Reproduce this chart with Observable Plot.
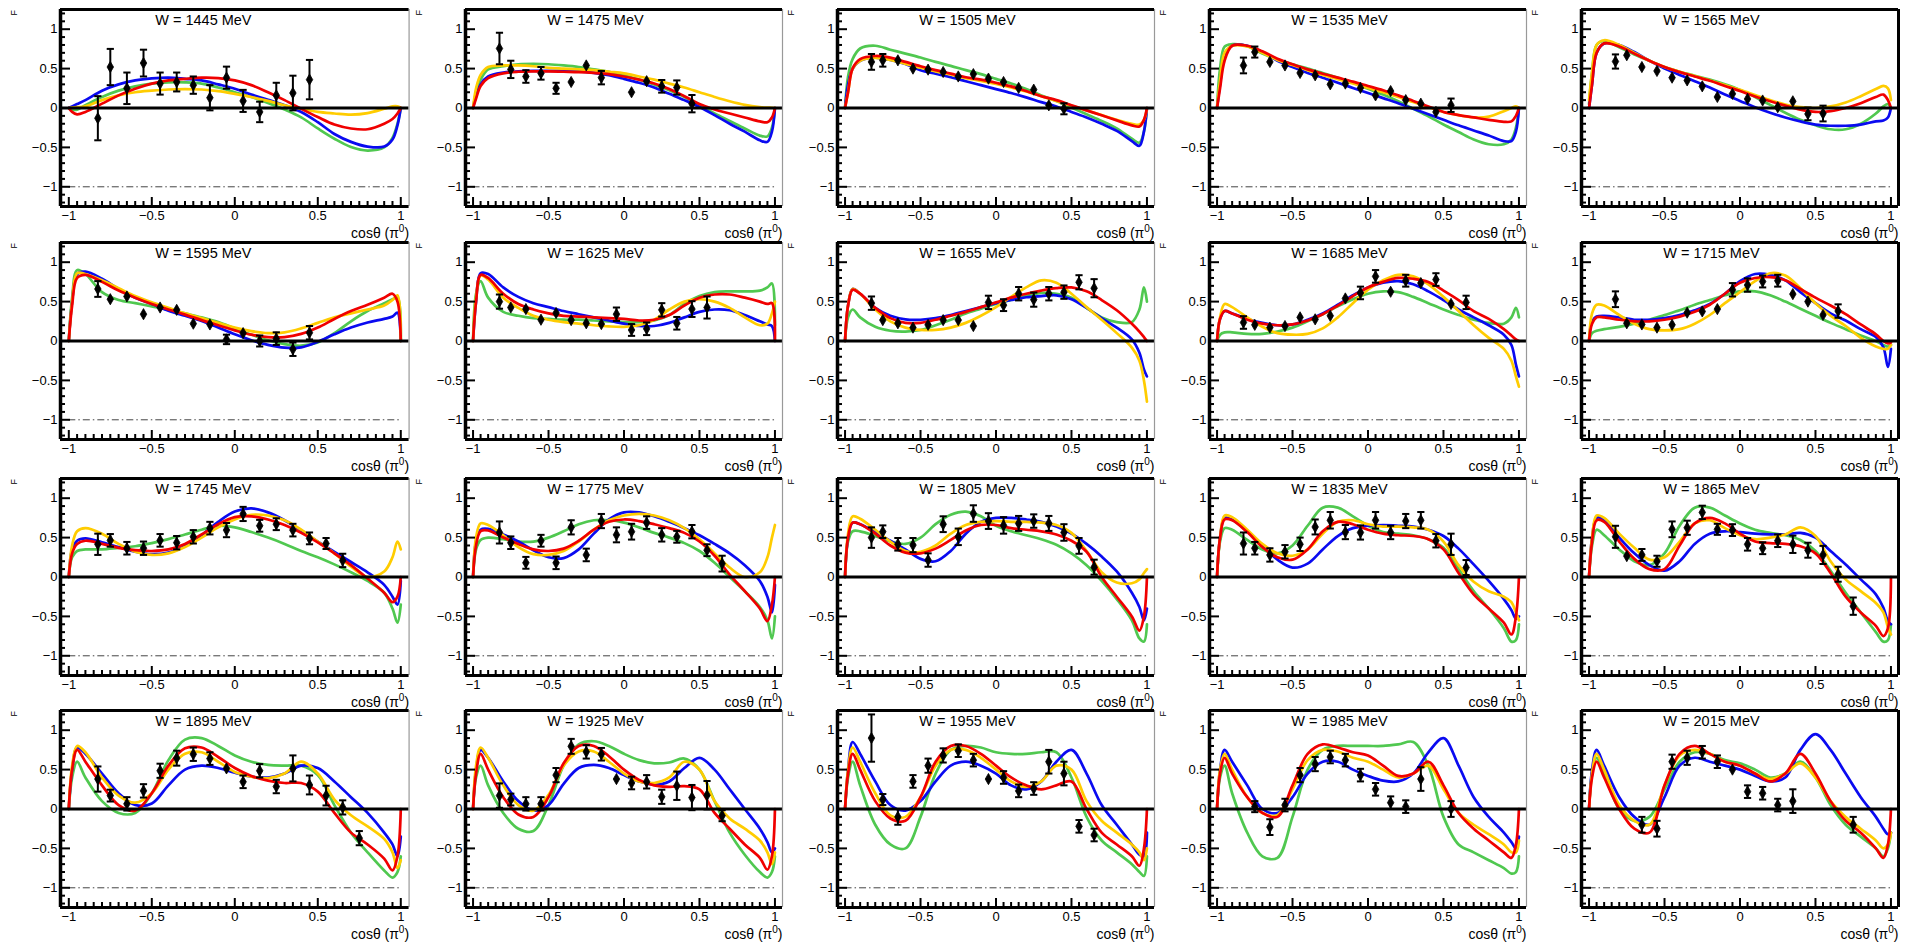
<!DOCTYPE html>
<html>
<head>
<meta charset="utf-8">
<script src="https://cdn.jsdelivr.net/npm/d3@7"></script>
<script src="https://cdn.jsdelivr.net/npm/@observablehq/plot@0.6"></script>
<style>
  html, body { margin: 0; padding: 0; background: #fff; overflow: hidden; }
  #chart { position: relative; width: 1905px; height: 942px; }
  #chart svg { position: absolute; }
</style>
</head>
<body>
<div id="chart"></div>
<script>
// Beam energies, one panel each
const energies = [1445, 1475, 1505, 1535, 1565, 1595, 1625, 1655, 1685, 1715,
                  1745, 1775, 1805, 1835, 1865, 1895, 1925, 1955, 1985, 2015];

// cos(theta) sampling of the model curves
const cosGrid = [-1, -0.98, -0.95, -0.9, -0.8, -0.7, -0.6, -0.5, -0.4, -0.3, -0.2, -0.1, 0,
                 0.1, 0.2, 0.3, 0.4, 0.5, 0.6, 0.7, 0.8, 0.9, 0.95, 0.98, 1];

// cos(theta) bin centres of the measurements
const binCos = [-0.825, -0.75, -0.65, -0.55, -0.45, -0.35, -0.25, -0.15, -0.05,
                0.05, 0.15, 0.25, 0.35, 0.45, 0.55, 0.65, 0.75];

// Measured F per energy (null = no measurement in that bin)
const measF = [
  [-0.13, 0.52, 0.25, 0.57, 0.31, 0.33, 0.29, 0.13, 0.385, 0.09, -0.05, 0.16, 0.19, 0.36, null, null, null],
  [0.755, 0.49, 0.40, 0.44, 0.25, 0.33, 0.54, 0.385, null, 0.2, 0.34, 0.275, 0.26, 0.055, null, null, null],
  [0.585, 0.605, 0.605, 0.5, 0.487, 0.457, 0.4, 0.43, 0.373, 0.33, 0.255, 0.233, 0.034, -0.01, null, null, null],
  [0.54, 0.71, 0.585, 0.54, 0.445, 0.415, 0.3, 0.31, 0.255, 0.16, 0.215, 0.1, 0.055, -0.05, 0.035, null, null],
  [0.59, 0.67, 0.52, 0.47, 0.385, 0.35, 0.275, 0.14, 0.18, 0.115, 0.095, 0.01, 0.085, -0.075, -0.07, null, null],
  [0.66, 0.53, 0.565, 0.34, 0.425, 0.395, 0.22, 0.21, 0.02, 0.1, 0.0, 0.03, -0.105, 0.105, null, null, null],
  [0.5, 0.425, 0.405, 0.27, 0.355, 0.265, 0.225, 0.215, 0.34, 0.14, 0.155, 0.395, 0.225, 0.405, 0.425, null, null],
  [0.48, 0.265, 0.225, 0.17, 0.205, 0.265, 0.265, 0.19, 0.49, 0.455, 0.6, 0.525, 0.6, 0.62, 0.745, 0.67, null],
  [0.235, 0.205, 0.17, 0.19, 0.3, 0.275, 0.32, 0.54, 0.61, 0.82, 0.625, 0.765, 0.735, 0.78, 0.47, 0.49, null],
  [0.53, 0.225, 0.21, 0.17, 0.205, 0.36, 0.375, 0.405, 0.65, 0.71, 0.755, 0.765, 0.595, 0.5, 0.33, 0.38, null],
  [0.415, 0.465, 0.365, 0.365, 0.465, 0.435, 0.51, 0.62, 0.595, 0.8, 0.65, 0.67, 0.595, 0.49, 0.425, 0.21, null],
  [0.565, 0.435, 0.18, 0.46, 0.18, 0.63, 0.28, 0.71, 0.535, 0.575, 0.69, 0.535, 0.51, 0.575, 0.34, 0.17, null],
  [0.5, 0.575, 0.415, 0.405, 0.215, 0.67, 0.51, 0.805, 0.71, 0.655, 0.68, 0.71, 0.68, 0.565, 0.395, 0.125, null],
  [0.425, 0.365, 0.28, 0.32, 0.415, 0.635, 0.72, 0.57, 0.565, 0.72, 0.565, 0.71, 0.72, 0.46, 0.415, 0.12, null],
  [0.51, 0.265, 0.28, 0.2, 0.605, 0.625, 0.82, 0.605, 0.595, 0.415, 0.365, 0.46, 0.415, 0.34, 0.28, 0.035, -0.37],
  [0.38, 0.17, 0.065, 0.23, 0.485, 0.645, 0.695, 0.64, 0.515, 0.345, 0.485, 0.285, 0.515, 0.305, 0.17, 0.02, -0.37],
  [0.17, 0.12, 0.065, 0.065, 0.43, 0.795, 0.725, 0.695, 0.38, 0.33, 0.345, 0.155, 0.295, 0.145, 0.175, -0.085, null],
  [0.9, 0.12, -0.1, 0.35, 0.55, 0.68, 0.74, 0.62, 0.38, 0.4, 0.23, 0.26, 0.6, 0.45, -0.22, -0.33, null],
  [null, 0.03, -0.23, 0.05, 0.43, 0.57, 0.66, 0.62, 0.43, 0.25, 0.08, 0.03, 0.38, null, 0.0, null, null],
  [null, null, -0.2, -0.25, 0.6, 0.65, 0.72, 0.6, 0.5, 0.22, 0.2, 0.05, 0.1, null, null, null, -0.2]
];

// Uncertainty of each measurement
const measErr = [
  [0.28, 0.23, 0.2, 0.17, 0.14, 0.12, 0.11, 0.16, 0.14, 0.14, 0.13, 0.16, 0.22, 0.25, null, null, null],
  [0.2, 0.11, 0.08, 0.08, 0.07, 0.03, 0.03, 0.085, null, 0.03, 0.03, 0.08, 0.09, 0.11, null, null, null],
  [0.1, 0.08, 0.04, 0.04, 0.035, 0.035, 0.035, 0.035, 0.035, 0.035, 0.035, 0.035, 0.03, 0.07, null, null, null],
  [0.1, 0.07, 0.04, 0.04, 0.04, 0.04, 0.035, 0.03, 0.035, 0.035, 0.035, 0.035, 0.035, 0.035, 0.085, null, null],
  [0.09, 0.04, 0.04, 0.04, 0.035, 0.035, 0.035, 0.03, 0.035, 0.035, 0.035, 0.03, 0.03, 0.08, 0.1, null, null],
  [0.1, 0.03, 0.04, 0.03, 0.035, 0.035, 0.03, 0.035, 0.06, 0.035, 0.07, 0.08, 0.085, 0.085, null, null, null],
  [0.09, 0.035, 0.035, 0.035, 0.035, 0.035, 0.03, 0.03, 0.085, 0.075, 0.08, 0.085, 0.08, 0.1, 0.14, null, null],
  [0.085, 0.03, 0.03, 0.03, 0.03, 0.03, 0.03, 0.03, 0.085, 0.075, 0.085, 0.09, 0.085, 0.085, 0.09, 0.115, null],
  [0.08, 0.03, 0.03, 0.03, 0.03, 0.03, 0.03, 0.03, 0.08, 0.08, 0.03, 0.075, 0.03, 0.08, 0.03, 0.085, null],
  [0.1, 0.03, 0.03, 0.03, 0.03, 0.03, 0.03, 0.03, 0.085, 0.085, 0.075, 0.075, 0.03, 0.03, 0.03, 0.085, null],
  [0.135, 0.08, 0.08, 0.085, 0.08, 0.085, 0.085, 0.08, 0.09, 0.09, 0.075, 0.075, 0.08, 0.075, 0.07, 0.085, null],
  [0.14, 0.08, 0.075, 0.075, 0.08, 0.09, 0.08, 0.09, 0.095, 0.1, 0.08, 0.085, 0.075, 0.085, 0.075, 0.1, null],
  [0.13, 0.08, 0.08, 0.09, 0.085, 0.1, 0.105, 0.105, 0.1, 0.105, 0.095, 0.085, 0.095, 0.105, 0.1, 0.095, null],
  [0.14, 0.08, 0.085, 0.085, 0.085, 0.095, 0.105, 0.09, 0.09, 0.105, 0.085, 0.09, 0.105, 0.085, 0.135, 0.095, null],
  [0.14, 0.03, 0.075, 0.07, 0.1, 0.09, 0.085, 0.07, 0.075, 0.08, 0.075, 0.08, 0.11, 0.095, 0.115, 0.095, 0.11],
  [0.16, 0.075, 0.085, 0.085, 0.09, 0.095, 0.085, 0.08, 0.03, 0.08, 0.085, 0.085, 0.165, 0.12, 0.125, 0.09, 0.09],
  [0.155, 0.075, 0.085, 0.085, 0.09, 0.095, 0.085, 0.08, 0.03, 0.08, 0.085, 0.09, 0.18, 0.16, 0.18, 0.07, null],
  [0.3, 0.07, 0.1, 0.08, 0.09, 0.09, 0.08, 0.08, 0.03, 0.08, 0.08, 0.08, 0.15, 0.15, 0.08, 0.08, null],
  [null, 0.07, 0.1, 0.08, 0.09, 0.09, 0.08, 0.08, 0.08, 0.08, 0.08, 0.08, 0.15, null, 0.1, null, null],
  [null, null, 0.1, 0.1, 0.09, 0.09, 0.08, 0.08, 0.03, 0.08, 0.08, 0.08, 0.15, null, null, null, 0.1]
];

// Model predictions of F on cosGrid, one row per energy
const curveBlue = [
  [0, 0.02, 0.05, 0.1, 0.22, 0.30, 0.35, 0.375, 0.385, 0.37, 0.35, 0.30, 0.245, 0.17, 0.105, 0.035, -0.05, -0.18, -0.33, -0.43, -0.49, -0.49, -0.4, -0.22, 0],
  [0, 0.15, 0.3, 0.40, 0.45, 0.465, 0.47, 0.47, 0.47, 0.465, 0.445, 0.415, 0.37, 0.32, 0.26, 0.18, 0.1, 0.013, -0.09, -0.2, -0.3, -0.41, -0.43, -0.3, 0],
  [0, 0.3, 0.5, 0.60, 0.64, 0.61, 0.56, 0.48, 0.435, 0.39, 0.34, 0.29, 0.24, 0.19, 0.135, 0.075, 0.02, -0.05, -0.12, -0.2, -0.29, -0.42, -0.48, -0.3, 0],
  [0, 0.3, 0.65, 0.79, 0.79, 0.71, 0.6, 0.52, 0.445, 0.385, 0.32, 0.255, 0.19, 0.125, 0.06, -0.01, -0.08, -0.15, -0.22, -0.285, -0.35, -0.42, -0.42, -0.3, 0],
  [0, 0.3, 0.7, 0.82, 0.8, 0.71, 0.6, 0.5, 0.42, 0.34, 0.26, 0.17, 0.09, 0.01, -0.06, -0.12, -0.17, -0.21, -0.225, -0.225, -0.21, -0.17, -0.16, -0.12, 0],
  [0, 0.5, 0.85, 0.88, 0.79, 0.66, 0.55, 0.47, 0.385, 0.32, 0.255, 0.17, 0.085, 0.01, -0.05, -0.085, -0.08, -0.01, 0.085, 0.17, 0.235, 0.28, 0.31, 0.36, 0],
  [0, 0.5, 0.86, 0.85, 0.68, 0.56, 0.48, 0.43, 0.38, 0.34, 0.3, 0.26, 0.22, 0.19, 0.19, 0.23, 0.3, 0.37, 0.4, 0.39, 0.33, 0.25, 0.21, 0.19, 0],
  [0, 0.45, 0.66, 0.6, 0.42, 0.32, 0.275, 0.27, 0.29, 0.33, 0.38, 0.43, 0.48, 0.52, 0.555, 0.57, 0.58, 0.53, 0.42, 0.29, 0.17, 0.02, -0.15, -0.36, -0.45],
  [0, 0.28, 0.38, 0.35, 0.28, 0.23, 0.2, 0.21, 0.27, 0.35, 0.46, 0.58, 0.68, 0.74, 0.76, 0.72, 0.63, 0.52, 0.4, 0.3, 0.2, 0.08, -0.05, -0.3, -0.45],
  [0, 0.25, 0.31, 0.32, 0.3, 0.27, 0.27, 0.29, 0.33, 0.39, 0.47, 0.6, 0.76, 0.85, 0.84, 0.77, 0.62, 0.48, 0.35, 0.26, 0.15, 0.05, -0.08, -0.33, -0.1],
  [0, 0.35, 0.46, 0.49, 0.44, 0.38, 0.32, 0.29, 0.31, 0.39, 0.53, 0.7, 0.83, 0.87, 0.82, 0.72, 0.59, 0.45, 0.32, 0.19, 0.06, -0.1, -0.25, -0.35, -0.05],
  [0, 0.45, 0.6, 0.61, 0.54, 0.45, 0.34, 0.25, 0.24, 0.35, 0.55, 0.73, 0.82, 0.82, 0.77, 0.7, 0.62, 0.53, 0.42, 0.3, 0.15, -0.05, -0.25, -0.45, -0.1],
  [0, 0.5, 0.69, 0.67, 0.57, 0.46, 0.35, 0.23, 0.2, 0.33, 0.55, 0.7, 0.75, 0.75, 0.73, 0.7, 0.64, 0.55, 0.42, 0.26, 0.07, -0.2, -0.38, -0.55, -0.4],
  [0, 0.5, 0.75, 0.73, 0.58, 0.4, 0.22, 0.12, 0.17, 0.35, 0.52, 0.62, 0.65, 0.66, 0.65, 0.64, 0.6, 0.52, 0.36, 0.16, -0.05, -0.28, -0.42, -0.53, -0.5],
  [0, 0.5, 0.75, 0.73, 0.5, 0.3, 0.15, 0.08, 0.2, 0.42, 0.55, 0.58, 0.57, 0.55, 0.54, 0.54, 0.56, 0.5, 0.33, 0.16, -0.03, -0.22, -0.39, -0.56, -0.6],
  [0, 0.5, 0.78, 0.7, 0.45, 0.2, 0.05, 0.07, 0.3, 0.5, 0.55, 0.52, 0.46, 0.41, 0.4, 0.45, 0.55, 0.52, 0.35, 0.15, -0.05, -0.3, -0.45, -0.6, -0.35],
  [0, 0.5, 0.75, 0.65, 0.35, 0.1, -0.02, 0.05, 0.32, 0.52, 0.56, 0.52, 0.43, 0.35, 0.31, 0.35, 0.52, 0.65, 0.5, 0.25, 0.0, -0.25, -0.42, -0.55, -0.5],
  [0, 0.5, 0.85, 0.7, 0.35, 0.05, -0.02, 0.1, 0.35, 0.55, 0.6, 0.55, 0.45, 0.3, 0.25, 0.35, 0.6, 0.75, 0.45, 0.05, -0.2, -0.45, -0.58, -0.6, -0.3],
  [0, 0.5, 0.75, 0.6, 0.3, 0.0, -0.05, 0.15, 0.45, 0.6, 0.6, 0.5, 0.42, 0.36, 0.35, 0.45, 0.72, 0.9, 0.55, 0.15, -0.1, -0.3, -0.42, -0.5, -0.35],
  [0, 0.5, 0.75, 0.55, 0.15, -0.1, -0.2, 0.15, 0.55, 0.65, 0.6, 0.55, 0.5, 0.42, 0.35, 0.4, 0.75, 0.95, 0.75, 0.45, 0.15, -0.1, -0.25, -0.32, -0.3]
];

const curveRed = [
  [0, -0.05, -0.08, -0.05, 0.055, 0.16, 0.245, 0.31, 0.35, 0.37, 0.385, 0.38, 0.35, 0.29, 0.2, 0.1, -0.01, -0.115, -0.21, -0.26, -0.27, -0.2, -0.14, -0.07, 0],
  [0, 0.12, 0.28, 0.38, 0.44, 0.46, 0.465, 0.465, 0.46, 0.455, 0.445, 0.43, 0.40, 0.36, 0.31, 0.24, 0.15, 0.05, -0.02, -0.07, -0.12, -0.17, -0.18, -0.12, 0],
  [0, 0.2, 0.5, 0.62, 0.66, 0.64, 0.585, 0.53, 0.48, 0.436, 0.39, 0.36, 0.32, 0.275, 0.215, 0.15, 0.1, 0.035, -0.03, -0.093, -0.157, -0.22, -0.235, -0.15, 0],
  [0, 0.25, 0.6, 0.79, 0.79, 0.72, 0.625, 0.555, 0.49, 0.435, 0.385, 0.335, 0.28, 0.225, 0.16, 0.09, 0.02, -0.05, -0.09, -0.12, -0.15, -0.175, -0.17, -0.1, 0],
  [0, 0.3, 0.7, 0.82, 0.78, 0.69, 0.6, 0.52, 0.455, 0.4, 0.345, 0.28, 0.215, 0.145, 0.085, 0.03, -0.02, -0.05, -0.04, 0.0, 0.06, 0.14, 0.17, 0.1, 0],
  [0, 0.45, 0.8, 0.84, 0.75, 0.64, 0.55, 0.47, 0.4, 0.335, 0.265, 0.2, 0.135, 0.08, 0.05, 0.05, 0.09, 0.17, 0.28, 0.38, 0.46, 0.55, 0.6, 0.5, 0],
  [0, 0.5, 0.84, 0.8, 0.6, 0.47, 0.4, 0.35, 0.32, 0.31, 0.3, 0.29, 0.28, 0.26, 0.27, 0.33, 0.45, 0.55, 0.59, 0.59, 0.55, 0.5, 0.47, 0.48, 0],
  [0, 0.45, 0.65, 0.6, 0.42, 0.29, 0.23, 0.23, 0.27, 0.32, 0.37, 0.43, 0.49, 0.55, 0.6, 0.64, 0.67, 0.68, 0.63, 0.52, 0.39, 0.22, 0.12, 0.05, 0],
  [0, 0.28, 0.38, 0.35, 0.27, 0.22, 0.2, 0.21, 0.26, 0.34, 0.45, 0.57, 0.68, 0.75, 0.8, 0.79, 0.75, 0.64, 0.52, 0.38, 0.28, 0.15, 0.07, 0.02, 0],
  [0, 0.22, 0.3, 0.3, 0.27, 0.25, 0.25, 0.27, 0.31, 0.37, 0.46, 0.6, 0.74, 0.8, 0.81, 0.77, 0.66, 0.55, 0.45, 0.34, 0.21, 0.085, 0.0, -0.03, -0.02],
  [0, 0.3, 0.42, 0.46, 0.42, 0.37, 0.34, 0.33, 0.35, 0.42, 0.54, 0.67, 0.76, 0.77, 0.73, 0.66, 0.56, 0.44, 0.3, 0.15, -0.02, -0.2, -0.32, -0.25, 0],
  [0, 0.4, 0.58, 0.59, 0.5, 0.42, 0.35, 0.33, 0.36, 0.46, 0.6, 0.7, 0.73, 0.71, 0.67, 0.62, 0.56, 0.45, 0.27, 0.03, -0.18, -0.4, -0.56, -0.35, 0],
  [0, 0.5, 0.69, 0.67, 0.55, 0.4, 0.31, 0.3, 0.36, 0.47, 0.59, 0.66, 0.66, 0.62, 0.6, 0.58, 0.54, 0.46, 0.32, 0.0, -0.25, -0.5, -0.68, -0.5, 0],
  [0, 0.5, 0.73, 0.72, 0.57, 0.38, 0.25, 0.22, 0.35, 0.58, 0.7, 0.67, 0.6, 0.55, 0.53, 0.52, 0.48, 0.35, 0.05, -0.22, -0.4, -0.58, -0.73, -0.5, 0],
  [0, 0.45, 0.72, 0.7, 0.45, 0.23, 0.1, 0.1, 0.4, 0.68, 0.75, 0.68, 0.55, 0.45, 0.43, 0.42, 0.39, 0.3, 0.05, -0.25, -0.45, -0.62, -0.75, -0.65, 0],
  [0, 0.5, 0.75, 0.6, 0.3, 0.05, -0.02, 0.2, 0.55, 0.77, 0.78, 0.66, 0.52, 0.42, 0.36, 0.33, 0.33, 0.22, -0.05, -0.3, -0.45, -0.63, -0.78, -0.6, 0],
  [0, 0.45, 0.7, 0.5, 0.15, -0.07, -0.1, 0.15, 0.58, 0.8, 0.8, 0.67, 0.5, 0.37, 0.3, 0.28, 0.29, 0.25, -0.05, -0.25, -0.45, -0.62, -0.77, -0.6, 0],
  [0, 0.45, 0.7, 0.5, 0.1, -0.12, -0.15, 0.15, 0.6, 0.8, 0.8, 0.7, 0.55, 0.4, 0.3, 0.25, 0.3, 0.35, 0.0, -0.3, -0.45, -0.6, -0.72, -0.5, 0],
  [0, 0.45, 0.65, 0.45, 0.15, -0.05, -0.1, 0.3, 0.7, 0.82, 0.78, 0.72, 0.68, 0.55, 0.42, 0.45, 0.6, 0.3, -0.05, -0.25, -0.4, -0.55, -0.62, -0.45, 0],
  [0, 0.4, 0.6, 0.4, 0.0, -0.25, -0.3, 0.3, 0.7, 0.8, 0.7, 0.6, 0.55, 0.45, 0.35, 0.45, 0.7, 0.45, 0.1, -0.15, -0.3, -0.5, -0.62, -0.45, 0]
];

const curveGreen = [
  [0, -0.02, -0.02, 0.035, 0.14, 0.22, 0.275, 0.31, 0.325, 0.325, 0.31, 0.26, 0.2, 0.14, 0.065, -0.02, -0.12, -0.26, -0.39, -0.495, -0.54, -0.5, -0.38, -0.2, 0],
  [0, 0.2, 0.36, 0.49, 0.53, 0.555, 0.56, 0.555, 0.54, 0.52, 0.49, 0.46, 0.415, 0.36, 0.3, 0.225, 0.14, 0.035, -0.07, -0.165, -0.26, -0.35, -0.36, -0.25, 0],
  [0, 0.4, 0.62, 0.755, 0.79, 0.74, 0.69, 0.64, 0.585, 0.535, 0.48, 0.43, 0.37, 0.31, 0.24, 0.16, 0.09, 0.005, -0.08, -0.165, -0.26, -0.39, -0.44, -0.3, 0],
  [0, 0.5, 0.78, 0.81, 0.785, 0.69, 0.615, 0.555, 0.5, 0.445, 0.385, 0.32, 0.245, 0.17, 0.085, -0.01, -0.105, -0.21, -0.305, -0.4, -0.46, -0.46, -0.4, -0.25, 0],
  [0.05, 0.45, 0.8, 0.85, 0.77, 0.68, 0.6, 0.52, 0.46, 0.41, 0.36, 0.3, 0.23, 0.14, 0.04, -0.06, -0.15, -0.22, -0.27, -0.27, -0.2, -0.07, 0.02, 0.05, 0],
  [0, 0.55, 0.9, 0.85, 0.62, 0.52, 0.48, 0.44, 0.4, 0.35, 0.3, 0.24, 0.16, 0.08, 0.01, -0.04, -0.06, -0.02, 0.1, 0.25, 0.38, 0.48, 0.53, 0.55, 0],
  [0, 0.6, 0.76, 0.55, 0.37, 0.32, 0.29, 0.28, 0.27, 0.27, 0.26, 0.25, 0.24, 0.24, 0.26, 0.33, 0.47, 0.57, 0.62, 0.63, 0.63, 0.64, 0.68, 0.73, 0.2],
  [0, 0.3, 0.4, 0.3, 0.18, 0.13, 0.12, 0.14, 0.2, 0.27, 0.35, 0.41, 0.47, 0.52, 0.57, 0.61, 0.6, 0.55, 0.42, 0.3, 0.24, 0.24, 0.4, 0.68, 0.5],
  [0, 0.08, 0.11, 0.11, 0.09, 0.09, 0.12, 0.17, 0.25, 0.34, 0.44, 0.53, 0.6, 0.63, 0.62, 0.56, 0.48, 0.4, 0.33, 0.27, 0.23, 0.22, 0.3, 0.42, 0.3],
  [0, 0.1, 0.13, 0.15, 0.18, 0.22, 0.27, 0.33, 0.39, 0.46, 0.52, 0.58, 0.63, 0.63, 0.58, 0.5, 0.41, 0.32, 0.23, 0.15, 0.07, 0.0, -0.05, -0.07, -0.05],
  [0, 0.25, 0.33, 0.35, 0.35, 0.37, 0.39, 0.43, 0.48, 0.54, 0.6, 0.65, 0.63, 0.57, 0.5, 0.42, 0.33, 0.25, 0.16, 0.06, -0.05, -0.2, -0.4, -0.58, -0.35],
  [0, 0.35, 0.47, 0.5, 0.48, 0.45, 0.45, 0.5, 0.58, 0.67, 0.72, 0.72, 0.69, 0.63, 0.56, 0.5, 0.43, 0.33, 0.18, 0.0, -0.18, -0.38, -0.55, -0.78, -0.5],
  [0, 0.45, 0.58, 0.58, 0.52, 0.45, 0.42, 0.5, 0.67, 0.79, 0.83, 0.77, 0.65, 0.58, 0.53, 0.48, 0.41, 0.3, 0.15, -0.05, -0.28, -0.55, -0.78, -0.82, -0.6],
  [0, 0.45, 0.62, 0.6, 0.47, 0.35, 0.3, 0.4, 0.65, 0.88, 0.88, 0.77, 0.65, 0.57, 0.55, 0.53, 0.48, 0.37, 0.1, -0.18, -0.4, -0.65, -0.82, -0.8, -0.6],
  [0, 0.4, 0.6, 0.53, 0.35, 0.2, 0.15, 0.3, 0.65, 0.88, 0.88, 0.78, 0.68, 0.6, 0.56, 0.53, 0.47, 0.33, 0.08, -0.2, -0.45, -0.7, -0.82, -0.8, -0.6],
  [0, 0.4, 0.6, 0.4, 0.1, -0.05, -0.05, 0.2, 0.62, 0.88, 0.9, 0.8, 0.68, 0.6, 0.56, 0.55, 0.55, 0.43, 0.05, -0.3, -0.55, -0.78, -0.87, -0.8, -0.6],
  [0, 0.4, 0.55, 0.3, -0.05, -0.25, -0.28, 0.05, 0.55, 0.82, 0.86, 0.8, 0.7, 0.62, 0.58, 0.59, 0.64, 0.5, 0.1, -0.3, -0.58, -0.8, -0.87, -0.8, -0.6],
  [0, 0.4, 0.6, 0.3, -0.2, -0.45, -0.5, -0.1, 0.45, 0.75, 0.8, 0.78, 0.72, 0.7, 0.7, 0.72, 0.72, 0.4, -0.1, -0.4, -0.55, -0.7, -0.8, -0.85, -0.6],
  [0, 0.4, 0.55, 0.2, -0.3, -0.6, -0.62, -0.1, 0.5, 0.75, 0.8, 0.8, 0.8, 0.8, 0.82, 0.85, 0.55, -0.1, -0.45, -0.55, -0.65, -0.75, -0.82, -0.8, -0.6],
  [0, 0.45, 0.65, 0.45, 0.0, -0.15, -0.1, 0.25, 0.6, 0.72, 0.7, 0.62, 0.58, 0.5, 0.4, 0.45, 0.6, 0.4, 0.05, -0.2, -0.35, -0.5, -0.6, -0.5, -0.3]
];

const curveYellow = [
  [0, 0.005, 0.01, 0.02, 0.1, 0.16, 0.2, 0.22, 0.235, 0.24, 0.235, 0.215, 0.18, 0.14, 0.09, 0.035, -0.01, -0.05, -0.07, -0.085, -0.065, -0.01, 0.02, 0.02, 0],
  [0, 0.25, 0.42, 0.52, 0.54, 0.54, 0.53, 0.51, 0.50, 0.49, 0.48, 0.46, 0.44, 0.40, 0.36, 0.31, 0.26, 0.2, 0.14, 0.085, 0.04, 0.012, 0.005, 0.003, 0],
  [0, 0.2, 0.5, 0.60, 0.635, 0.61, 0.56, 0.51, 0.465, 0.425, 0.38, 0.345, 0.305, 0.26, 0.21, 0.15, 0.09, 0.03, -0.03, -0.09, -0.15, -0.2, -0.21, -0.15, 0],
  [0, 0.35, 0.7, 0.79, 0.78, 0.7, 0.61, 0.545, 0.48, 0.42, 0.365, 0.31, 0.255, 0.2, 0.14, 0.075, 0.01, -0.05, -0.09, -0.12, -0.11, -0.04, 0.0, 0.02, 0],
  [0.1, 0.45, 0.8, 0.86, 0.8, 0.7, 0.6, 0.52, 0.46, 0.405, 0.35, 0.29, 0.23, 0.165, 0.1, 0.045, 0.01, 0.0, 0.02, 0.07, 0.15, 0.24, 0.28, 0.25, 0.1],
  [0, 0.5, 0.86, 0.85, 0.77, 0.67, 0.57, 0.49, 0.42, 0.35, 0.29, 0.23, 0.17, 0.125, 0.1, 0.11, 0.16, 0.23, 0.3, 0.35, 0.4, 0.45, 0.52, 0.58, 0],
  [0, 0.55, 0.83, 0.78, 0.55, 0.42, 0.32, 0.27, 0.24, 0.22, 0.2, 0.185, 0.18, 0.2, 0.27, 0.4, 0.5, 0.53, 0.5, 0.42, 0.3, 0.2, 0.22, 0.35, 0.5],
  [0, 0.45, 0.66, 0.6, 0.4, 0.25, 0.17, 0.14, 0.14, 0.17, 0.23, 0.32, 0.43, 0.56, 0.68, 0.77, 0.74, 0.6, 0.43, 0.27, 0.1, -0.085, -0.25, -0.5, -0.77],
  [0, 0.3, 0.47, 0.43, 0.3, 0.18, 0.1, 0.08, 0.09, 0.16, 0.3, 0.48, 0.65, 0.77, 0.84, 0.82, 0.72, 0.56, 0.38, 0.2, 0.04, -0.1, -0.25, -0.45, -0.58],
  [0, 0.35, 0.46, 0.45, 0.33, 0.22, 0.15, 0.135, 0.15, 0.22, 0.33, 0.48, 0.62, 0.76, 0.86, 0.83, 0.67, 0.48, 0.32, 0.19, 0.04, -0.07, -0.1, -0.1, -0.05],
  [0, 0.4, 0.58, 0.62, 0.55, 0.42, 0.32, 0.28, 0.3, 0.38, 0.5, 0.63, 0.73, 0.79, 0.78, 0.72, 0.6, 0.45, 0.3, 0.13, 0.0, 0.07, 0.25, 0.45, 0.35],
  [0, 0.5, 0.68, 0.66, 0.53, 0.38, 0.29, 0.28, 0.33, 0.45, 0.6, 0.72, 0.78, 0.8, 0.78, 0.72, 0.62, 0.48, 0.3, 0.12, 0.0, 0.06, 0.25, 0.5, 0.66],
  [0, 0.55, 0.77, 0.74, 0.6, 0.45, 0.33, 0.32, 0.4, 0.55, 0.66, 0.7, 0.71, 0.7, 0.7, 0.69, 0.66, 0.56, 0.33, 0.06, -0.07, -0.08, -0.03, 0.05, 0.1],
  [0, 0.5, 0.78, 0.76, 0.6, 0.42, 0.3, 0.27, 0.35, 0.55, 0.7, 0.72, 0.67, 0.64, 0.64, 0.63, 0.6, 0.45, 0.15, -0.06, -0.18, -0.25, -0.32, -0.45, -0.55],
  [0, 0.5, 0.78, 0.75, 0.55, 0.37, 0.22, 0.25, 0.45, 0.68, 0.72, 0.62, 0.53, 0.48, 0.5, 0.54, 0.63, 0.52, 0.2, -0.03, -0.18, -0.33, -0.45, -0.64, -0.73],
  [0, 0.55, 0.8, 0.72, 0.4, 0.17, 0.08, 0.2, 0.5, 0.7, 0.72, 0.6, 0.47, 0.41, 0.39, 0.45, 0.6, 0.45, 0.12, -0.08, -0.22, -0.38, -0.55, -0.75, -0.65],
  [0, 0.55, 0.78, 0.65, 0.3, 0.05, -0.02, 0.18, 0.55, 0.73, 0.73, 0.6, 0.45, 0.35, 0.33, 0.4, 0.6, 0.5, 0.1, -0.12, -0.25, -0.4, -0.55, -0.7, -0.55],
  [0, 0.5, 0.78, 0.6, 0.2, -0.08, -0.1, 0.15, 0.55, 0.75, 0.75, 0.65, 0.5, 0.35, 0.28, 0.35, 0.55, 0.5, 0.1, -0.15, -0.3, -0.45, -0.55, -0.65, -0.5],
  [0, 0.5, 0.7, 0.5, 0.15, -0.05, -0.08, 0.25, 0.62, 0.75, 0.73, 0.65, 0.6, 0.5, 0.4, 0.45, 0.55, 0.25, -0.05, -0.2, -0.32, -0.45, -0.55, -0.55, -0.4],
  [0, 0.45, 0.7, 0.5, 0.05, -0.15, -0.2, 0.3, 0.68, 0.75, 0.7, 0.6, 0.55, 0.45, 0.38, 0.45, 0.58, 0.4, 0.1, -0.1, -0.25, -0.4, -0.5, -0.45, -0.3]
];

// Axis ticks
const xMajorTicks = [-1, -0.5, 0, 0.5, 1];
const yMajorTicks = [-1, -0.5, 0, 0.5, 1];
const xMinorTicks = d3.range(-20, 21).map(i => i / 20).filter(v => !xMajorTicks.includes(v));
const yMinorTicks = d3.range(-12, 13).map(i => i / 10).filter(v => !yMajorTicks.includes(v));
const tickLabel = v => (v < 0 ? "\u2212" : "") + Math.abs(v);

const xTitle = "cosθ (π0)";

// Drawing order of the model curves (last on top)
const models = [
  {values: curveGreen, color: "#50c850"},
  {values: curveBlue, color: "#0a0af0"},
  {values: curveYellow, color: "#ffcc00"},
  {values: curveRed, color: "#f00000"}
];

// Grid layout: frame boxes in page pixels
const frameLeft = [59.7, 464.5, 837, 1208.5, 1580.5];
const frameWidth = [348.6, 317, 317, 317, 317];
const frameTop = [9.2, 241.5, 477.5, 709.5];
const frameHeight = 197;
const M = {left: 58, right: 8, top: 14, bottom: 38};

// Horizontal bar used as error-bar end cap
const capSymbol = {
  draw(context, size) {
    const w = Math.sqrt(size / Math.PI);
    context.moveTo(-w, 0);
    context.lineTo(w, 0);
  }
};

const font = "'Liberation Sans', Arial, Helvetica, sans-serif";

function panel(k) {
  const row = Math.floor(k / 5), col = k % 5;
  const fw = frameWidth[col];
  const fh = frameHeight;
  const lastCol = col === 4;

  const pts = binCos
    .map((c, i) => ({cos: c, f: measF[k][i], e: measErr[k][i]}))
    .filter(d => d.f != null);
  const capped = pts.filter(d => d.e >= 0.05);

  const curveMarks = models.map(m =>
    Plot.line(cosGrid.map((c, i) => ({cos: c, f: m.values[k][i]})), {
      x: "cos", y: "f", stroke: m.color, strokeWidth: 2.7, curve: "catmull-rom"
    })
  );

  const svg = Plot.plot({
    width: fw + M.left + M.right,
    height: fh + M.top + M.bottom,
    marginLeft: M.left, marginRight: M.right, marginTop: M.top, marginBottom: M.bottom,
    x: {domain: [-1.05, 1.05]},
    y: {domain: [-1.25, 1.25]},
    style: {background: "transparent", overflow: "visible", fontFamily: font, color: "black"},
    marks: [
      // reference line at F = -1
      Plot.ruleY([-1], {x1: -1, x2: 1, stroke: "#444", strokeWidth: 1, strokeDasharray: "7,3,1.5,3"}),
      ...curveMarks,
      // zero line
      Plot.ruleY([0], {stroke: "black", strokeWidth: 3}),
      // measurements
      Plot.ruleX(pts, {x: "cos", y1: d => d.f - d.e, y2: d => d.f + d.e, stroke: "black", strokeWidth: 2}),
      Plot.dot(capped, {x: "cos", y: d => d.f + d.e, symbol: capSymbol, r: 3.6, stroke: "black", strokeWidth: 2, fill: "none"}),
      Plot.dot(capped, {x: "cos", y: d => d.f - d.e, symbol: capSymbol, r: 3.6, stroke: "black", strokeWidth: 2, fill: "none"}),
      Plot.dot(pts, {x: "cos", y: "f", symbol: "diamond", r: 3.4, fill: "black", stroke: "black", strokeWidth: 0.8}),
      // inward ticks
      Plot.tickY(yMajorTicks, {y: d => d, insetRight: fw - 10, stroke: "black", strokeWidth: 2}),
      Plot.tickY(yMinorTicks, {y: d => d, insetRight: fw - 5, stroke: "black", strokeWidth: 2}),
      Plot.tickX(xMajorTicks, {x: d => d, insetTop: fh - 9, stroke: "black", strokeWidth: 2}),
      Plot.tickX(xMinorTicks, {x: d => d, insetTop: fh - 5, stroke: "black", strokeWidth: 2}),
      // frame: heavy top / left / bottom, lighter right edge except on the last column
      Plot.ruleX([1.05], {stroke: lastCol ? "black" : "#999", strokeWidth: lastCol ? 3 : 1.2}),
      Plot.ruleY([1.25, -1.25], {stroke: "black", strokeWidth: 3}),
      Plot.ruleX([-1.05], {stroke: "black", strokeWidth: 3.5}),
      // tick labels
      Plot.axisX({ticks: xMajorTicks, tickFormat: tickLabel, tickSize: 0, tickPadding: 4, label: null, fontSize: 13}),
      Plot.axisY({ticks: yMajorTicks, tickFormat: tickLabel, tickSize: 0, tickPadding: 3, label: null, fontSize: 13}),
      // titles
      Plot.text([energies[k]], {
        frameAnchor: "top-left", dx: fw * 0.41, dy: 10.5,
        text: d => `W = ${d} MeV`, textAnchor: "middle", lineAnchor: "middle", fontSize: 14.5
      }),
      Plot.text(["F"], {frameAnchor: "top-left", dx: -50, dy: 6, text: d => d, rotate: -90, fontSize: 9}),
      Plot.text([xTitle], {
        frameAnchor: "bottom-right", dy: 31.5, text: d => d,
        textAnchor: "end", lineAnchor: "bottom", fontSize: 14
      })
    ]
  });

  // raise the 0 of pi0 as a superscript
  d3.select(svg).selectAll("text")
    .filter(function() { return this.textContent === xTitle; })
    .each(function() {
      const t = d3.select(this).text(null);
      t.append("tspan").text("cosθ (π");
      t.append("tspan").attr("dy", -6).attr("font-size", 10).text("0");
      t.append("tspan").attr("dy", 6).text(")");
    });

  svg.style.left = (frameLeft[col] - M.left) + "px";
  svg.style.top = (frameTop[row] - M.top) + "px";
  return svg;
}

const chart = document.getElementById("chart");
energies.forEach((e, k) => chart.appendChild(panel(k)));
</script>
</body>
</html>
